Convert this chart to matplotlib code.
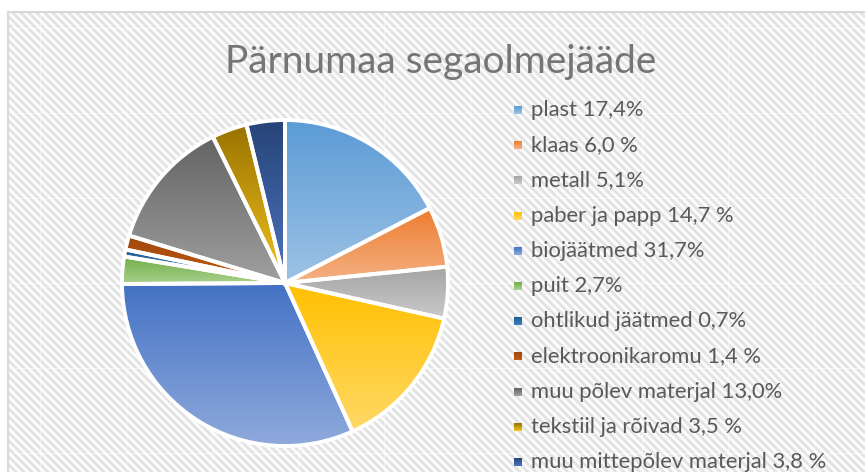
import numpy as np
import matplotlib
matplotlib.use("Agg")
import matplotlib.pyplot as plt
from matplotlib.colors import to_rgb

W, H = 865, 472
TITLE = "Pärnumaa segaolmejääde"
LABELS = ["plast 17,4%", "klaas 6,0 %", "metall 5,1%", "paber ja papp 14,7 %",
          "biojäätmed 31,7%", "puit 2,7%", "ohtlikud jäätmed 0,7%",
          "elektroonikaromu 1,4 %", "muu põlev materjal 13,0%",
          "tekstiil ja rõivad 3,5 %", "muu mittepõlev materjal 3,8 %"]
VALUES = [17.4, 6.0, 5.1, 14.7, 31.7, 2.7, 0.7, 1.4, 13.0, 3.5, 3.8]
TOP = ["#5B9BD5", "#ED7D31", "#A5A5A5", "#FFC000", "#4472C4", "#70AD47",
       "#255E91", "#9E480E", "#636363", "#997300", "#264478"]
BOTTOM = ["#9DC3E6", "#F4B183", "#CACACA", "#FFD966", "#8FAADC", "#A9D18E",
          "#3A7CC0", "#C55A11", "#A0A0A0", "#F2C320", "#4F74BF"]


def gradient(c_top, c_bot, n=128):
    t = np.linspace(0, 1, n)[:, None]
    a, b = np.array(to_rgb(c_top)), np.array(to_rgb(c_bot))
    return (a * (1 - t) + b * t)[:, None, :]


fig = plt.figure(figsize=(W / 100, H / 100), dpi=100)

# background: striped chart area with faint cell lines, white margin
bg = fig.add_axes([0, 0, 1, 1])
yy, xx = np.mgrid[0:H, 0:W]
s = 0.5 + 0.5 * np.cos(2 * np.pi * (xx - yy) / 8.0)
img = 1.0 - 0.12 * s
cell = (np.abs(((xx - 40) % 86)) < 1) | (np.abs(((yy - 28) % 85)) < 1)
img = np.where(cell, 0.5 * img + 0.5, img)
img = np.where((xx < 8) | (yy < 12), 1.0, img)
bg.imshow(np.dstack([img] * 3), extent=(0, W, H, 0), interpolation="bilinear")
bg.plot([8, 8, W], [H, 12, 12], color="#d9d9d9", lw=1.5)
bg.set_xlim(0, W); bg.set_ylim(H, 0)
bg.axis("off")

# pie with per-slice vertical gradients
cx, cy, r = 285, 283, 163
pad = 1.05
ax = fig.add_axes([(cx - r * pad) / W, (H - cy - r * pad) / H, 2 * r * pad / W, 2 * r * pad / H])
ax.set_facecolor("none")
wedges, _ = ax.pie(VALUES, startangle=90, counterclock=False, radius=1,
                   wedgeprops=dict(edgecolor="white", linewidth=2.8))
for w, ct, cb in zip(wedges, TOP, BOTTOM):
    ext = w.get_path().get_extents()
    im = ax.imshow(gradient(ct, cb), extent=(ext.x0, ext.x1, ext.y0, ext.y1),
                   origin="upper", aspect="auto", interpolation="bilinear", zorder=1)
    im.set_clip_path(w)
    w.set_facecolor("none")
    w.set_zorder(2)
ax.set_xlim(-pad, pad); ax.set_ylim(-pad, pad)
ax.set_aspect("equal")
ax.axis("off")

fig.text(441 / W, 1 - 62 / H, TITLE, ha="center", va="center", fontsize=28,
         family="Lato", color="#757575")

# legend
lg = fig.add_axes([0, 0, 1, 1])
lg.set_xlim(0, W); lg.set_ylim(H, 0)
lg.axis("off")
for i, (lab, ct, cb) in enumerate(zip(LABELS, TOP, BOTTOM)):
    y = 110 + i * 35.2
    lg.imshow(gradient(ct, cb, 16), extent=(514, 522, y + 4, y - 4), origin="upper",
              aspect="auto", interpolation="bilinear")
    lg.text(531, y, lab, ha="left", va="center", fontsize=15.8, family="Lato",
            color="#595959")
lg.set_xlim(0, W); lg.set_ylim(H, 0)

fig.savefig("out.png", dpi=100)
